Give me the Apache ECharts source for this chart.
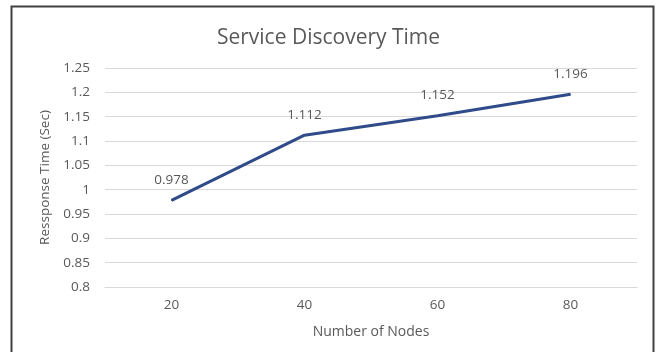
<!DOCTYPE html>
<html>
<head>
<meta charset="utf-8">
<style>
  html, body { margin: 0; padding: 0; background: #ffffff; }
  #chart { width: 657px; height: 352px; }
</style>
<script src="https://cdn.jsdelivr.net/npm/echarts@6/dist/echarts.min.js"></script>
</head>
<body>
<div id="chart"></div>
<script>
// Node counts on the x axis and measured discovery time (seconds)
const nodeCounts = ['20', '40', '60', '80'];
const responseTimes = [0.978, 1.112, 1.152, 1.196];

const textGray = '#595959';
const font = '"Open Sans", "Noto Sans", sans-serif';

const chart = echarts.init(document.getElementById('chart'));
chart.setOption({
  backgroundColor: '#ffffff',
  animation: false,
  title: {
    text: 'Service Discovery Time',
    left: 'center',
    top: 23,
    textStyle: { color: textGray, fontSize: 21, fontWeight: 'normal', fontFamily: font }
  },
  graphic: [{
    type: 'rect',
    shape: { x: 11.5, y: 6.5, width: 642, height: 360 },
    style: { fill: 'none', stroke: '#404040', lineWidth: 2 },
    silent: true
  }],
  grid: { left: 105, right: 20, top: 68, bottom: 65 },
  xAxis: {
    type: 'category',
    data: nodeCounts,
    boundaryGap: true,
    name: 'Number of Nodes',
    nameLocation: 'middle',
    nameGap: 38,
    nameTextStyle: { color: textGray, fontSize: 14, fontFamily: font },
    axisLine: { show: true, lineStyle: { color: '#d9d9d9', width: 1 } },
    axisTick: { show: false },
    axisLabel: { color: textGray, fontSize: 13.5, fontFamily: font, margin: 11 }
  },
  yAxis: {
    type: 'value',
    min: 0.8,
    max: 1.25,
    interval: 0.05,
    name: 'Ressponse Time (Sec)',
    nameLocation: 'middle',
    nameGap: 51,
    nameTextStyle: { color: textGray, fontSize: 13.5, fontFamily: font },
    axisLine: { show: false },
    axisTick: { show: false },
    splitLine: { lineStyle: { color: '#d9d9d9', width: 1 } },
    axisLabel: {
      color: textGray, fontSize: 13.5, fontFamily: font, margin: 15,
      formatter: v => String(parseFloat(v.toFixed(2)))
    }
  },
  series: [{
    type: 'line',
    data: responseTimes,
    symbol: 'circle',
    symbolSize: 1,
    showSymbol: true,
    lineStyle: { color: '#2f4b8a', width: 3 },
    itemStyle: { color: '#2f4b8a' },
    label: {
      show: true,
      position: 'top',
      distance: 13,
      color: textGray,
      fontSize: 13.5,
      fontFamily: font,
      formatter: p => String(p.value)
    }
  }]
});
</script>
</body>
</html>
